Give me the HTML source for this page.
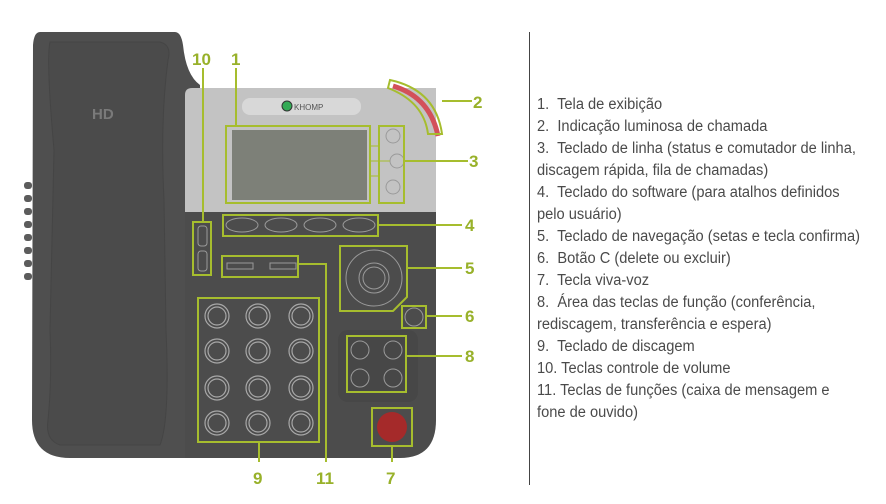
<!DOCTYPE html>
<html><head><meta charset="utf-8"><style>
html,body{margin:0;padding:0;background:#fff;width:886px;height:504px;overflow:hidden}
svg{position:absolute;left:0;top:0}
.lbl{font-family:"Liberation Sans",sans-serif;font-weight:bold;font-size:17px;fill:#98b12a}
#legend{position:absolute;left:537px;top:94px;font-family:"Liberation Sans Narrow","Liberation Sans",sans-serif;font-size:15.5px;line-height:22px;color:#4a4a4a;transform:scaleX(0.945);transform-origin:0 0}
#legend div{white-space:nowrap}
</style></head><body>
<svg width="886" height="504">
<g>
<path d="M40 32 H175 Q181 32 183 45 Q186 75 200 85 L200 458 H70 Q32 458 32 420 L33 45 Q34 32 40 32Z" fill="#4f4f4f"/>
<path d="M50 42 H160 Q172 45 168 60 Q160 120 164 200 L166 330 Q170 420 160 445 H60 Q45 440 48 420 Q52 380 50 330 L54 150 Q46 60 50 42Z" fill="#4b4b4b" stroke="#454545"/>
<text x="92" y="119" font-family="Liberation Sans,sans-serif" font-weight="bold" font-size="15" fill="#7a7a7a">HD</text>
<g fill="#5c5c5c"><rect x="24" y="182" width="8" height="7" rx="3"/><rect x="24" y="195" width="8" height="7" rx="3"/><rect x="24" y="208" width="8" height="7" rx="3"/><rect x="24" y="221" width="8" height="7" rx="3"/><rect x="24" y="234" width="8" height="7" rx="3"/><rect x="24" y="247" width="8" height="7" rx="3"/><rect x="24" y="260" width="8" height="7" rx="3"/><rect x="24" y="273" width="8" height="7" rx="3"/></g>
</g>
<g>
<path d="M185 212 H436 V420 Q436 458 400 458 H185Z" fill="#4c4c4c"/>
<path d="M192 88 H436 V212 H185 V95 Q185 88 192 88Z" fill="#c3c3c3"/>
<rect x="242" y="98" width="119" height="17" rx="8" fill="#d8d8d8"/>
<circle cx="287" cy="106" r="5" fill="#3a5" stroke="#333"/>
<text x="294" y="110" font-family="Liberation Sans,sans-serif" font-size="8" fill="#555">KHOMP</text>
<rect x="232" y="130" width="135" height="70" fill="#7d8078"/>
<rect x="338" y="330" width="80" height="72" rx="10" fill="#474747"/>
</g>
<g fill="none" stroke="#9a9a9a" stroke-width="1">
<circle cx="393" cy="136" r="7"/><circle cx="397" cy="161" r="7"/><circle cx="393" cy="187" r="7"/>
<ellipse cx="242" cy="225" rx="16" ry="7"/><ellipse cx="281" cy="225" rx="16" ry="7"/><ellipse cx="320" cy="225" rx="16" ry="7"/><ellipse cx="359" cy="225" rx="16" ry="7"/>
<rect x="198" y="226" width="9" height="20" rx="3"/><rect x="198" y="251" width="9" height="20" rx="3"/>
<rect x="227" y="263" width="26" height="6"/><rect x="270" y="263" width="26" height="6"/>
<circle cx="374" cy="278" r="28"/><circle cx="374" cy="278" r="15"/><circle cx="374" cy="278" r="11"/>
<circle cx="414" cy="317" r="9"/>
<circle cx="360" cy="350" r="9"/><circle cx="393" cy="350" r="9"/><circle cx="360" cy="378" r="9"/><circle cx="393" cy="378" r="9"/>
</g>
<g fill="none" stroke="#a8a8a8" stroke-width="1.2">
<circle cx="217" cy="316" r="12"/><circle cx="258" cy="316" r="12"/><circle cx="301" cy="316" r="12"/>
<circle cx="217" cy="351" r="12"/><circle cx="258" cy="351" r="12"/><circle cx="301" cy="351" r="12"/>
<circle cx="217" cy="388" r="12"/><circle cx="258" cy="388" r="12"/><circle cx="301" cy="388" r="12"/>
<circle cx="217" cy="423" r="12"/><circle cx="258" cy="423" r="12"/><circle cx="301" cy="423" r="12"/>
<circle cx="217" cy="316" r="9"/><circle cx="258" cy="316" r="9"/><circle cx="301" cy="316" r="9"/>
<circle cx="217" cy="351" r="9"/><circle cx="258" cy="351" r="9"/><circle cx="301" cy="351" r="9"/>
<circle cx="217" cy="388" r="9"/><circle cx="258" cy="388" r="9"/><circle cx="301" cy="388" r="9"/>
<circle cx="217" cy="423" r="9"/><circle cx="258" cy="423" r="9"/><circle cx="301" cy="423" r="9"/>
</g>
<circle cx="392" cy="427" r="15" fill="#a52a2a"/>
<path d="M393 86 Q430 97 438 136" fill="none" stroke="#d3505a" stroke-width="5"/>
<g fill="none" stroke="#a6bd2e" stroke-width="2">
<path d="M390 80 Q436 90 442 134 L428 134 Q424 102 388 88Z"/>
<rect x="226" y="126" width="144" height="77"/>
<rect x="379" y="126" width="25" height="77"/>
<rect x="223" y="215" width="155" height="21"/>
<rect x="193" y="222" width="18" height="53"/>
<rect x="222" y="256" width="76" height="21"/>
<path d="M340 246 H407 V297 L393 311 H340Z"/>
<rect x="402" y="306" width="24" height="22"/>
<rect x="347" y="336" width="59" height="56"/>
<rect x="198" y="298" width="121" height="144"/>
<rect x="372" y="408" width="40" height="38"/>
<path d="M203 68 V222 M236 68 V126 M442 101 H472 M404 161 H468 M378 225 H462 M407 268 H462 M426 316 H462 M406 356 H462 M259 442 V462 M298 264 H326 V462 M392 446 V462"/>
<path d="M370 146 H379 M370 161 H390 M370 176 H379" stroke-width="1"/>
</g>
<g class="lbl">
<text x="192" y="65">10</text><text x="231" y="65">1</text>
<text x="473" y="108">2</text><text x="469" y="167">3</text><text x="465" y="231">4</text>
<text x="465" y="274">5</text><text x="465" y="322">6</text><text x="465" y="362">8</text>
<text x="253" y="484">9</text><text x="316" y="484">11</text><text x="386" y="484">7</text>
</g>
<line x1="529.5" y1="32" x2="529.5" y2="485" stroke="#444" stroke-width="1"/>
</svg>
<div id="legend">
<div>1.&nbsp; Tela de exibição</div>
<div>2.&nbsp; Indicação luminosa de chamada</div>
<div>3.&nbsp; Teclado de linha (status e comutador de linha,<br>discagem rápida, fila de chamadas)</div>
<div>4.&nbsp; Teclado do software (para atalhos definidos<br>pelo usuário)</div>
<div>5.&nbsp; Teclado de navegação (setas e tecla confirma)</div>
<div>6.&nbsp; Botão C (delete ou excluir)</div>
<div>7.&nbsp; Tecla viva-voz</div>
<div>8.&nbsp; Área das teclas de função (conferência,<br>rediscagem, transferência e espera)</div>
<div>9.&nbsp; Teclado de discagem</div>
<div>10. Teclas controle de volume</div>
<div>11. Teclas de funções (caixa de mensagem e<br>fone de ouvido)</div>
</div>
</body></html>
